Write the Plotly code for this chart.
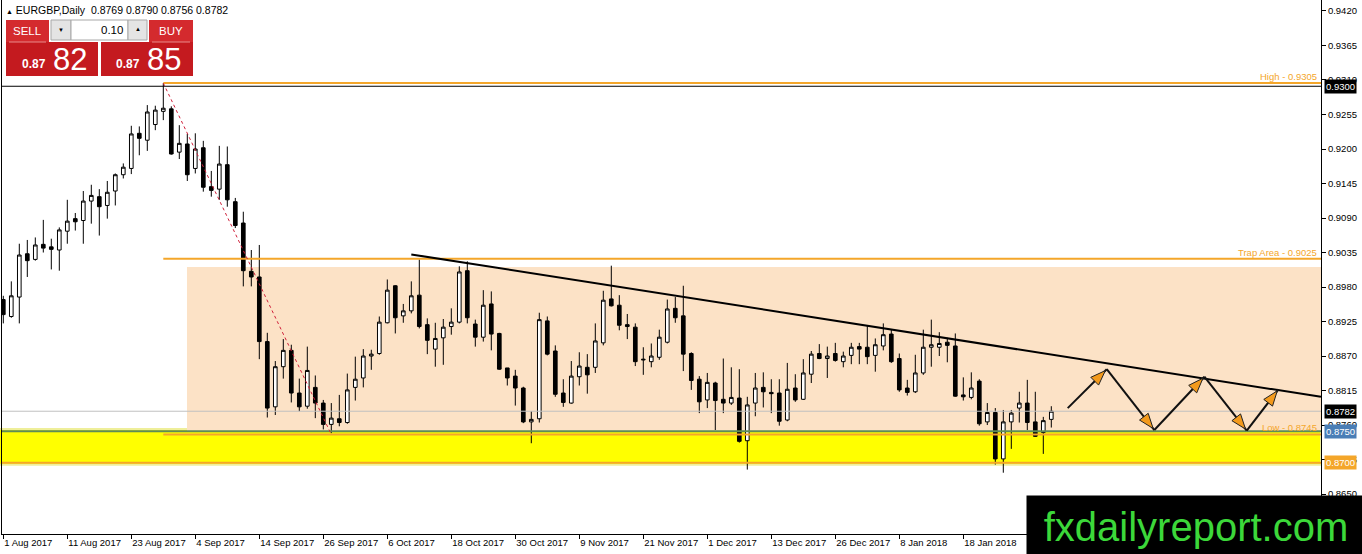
import math
import pandas as pd
import plotly.graph_objects as go

# ---------------- data ----------------
dates = [d for d in pd.bdate_range("2017-08-01", "2018-02-02")
         if d.strftime("%m-%d") not in ("12-25", "01-01")]

opens = [0.8960, 0.8933, 0.8964, 0.9033, 0.9024, 0.9048, 0.9044, 0.9039, 0.9069, 0.9089,
         0.9086, 0.9117, 0.9124, 0.9110, 0.9133, 0.9159, 0.9169, 0.9225, 0.9214, 0.9239,
         0.9260, 0.9264, 0.9195, 0.9208, 0.9169, 0.9202, 0.9140, 0.9136, 0.9175, 0.9116,
         0.9082, 0.9005, 0.8996, 0.8893, 0.8789, 0.8853, 0.8879, 0.8811, 0.8790, 0.8820,
         0.8795, 0.8761, 0.8770, 0.8764, 0.8820, 0.8835, 0.8870, 0.8874, 0.8923, 0.8982,
         0.8934, 0.8942, 0.8967, 0.8920, 0.8881, 0.8899, 0.8917, 0.8924, 0.9006, 0.8921,
         0.8900, 0.8953, 0.8906, 0.8851, 0.8838, 0.8819, 0.8765, 0.8770, 0.8926, 0.8878,
         0.8811, 0.8795, 0.8837, 0.8852, 0.8852, 0.8891, 0.8961, 0.8951, 0.8920, 0.8916,
         0.8865, 0.8861, 0.8868, 0.8892, 0.8946, 0.8934, 0.8874, 0.8833, 0.8800, 0.8827,
         0.8801, 0.8795, 0.8803, 0.8735, 0.8795, 0.8820, 0.8812, 0.8811, 0.8768, 0.8819,
         0.8801, 0.8841, 0.8874, 0.8866, 0.8874, 0.8861, 0.8871, 0.8885, 0.8884, 0.8871,
         0.8886, 0.8905, 0.8866, 0.8819, 0.8813, 0.8843, 0.8884, 0.8884, 0.8892, 0.8886,
         0.8808, 0.8804, 0.8830, 0.8765, 0.8780, 0.8706, 0.8765, 0.8787, 0.8795, 0.8765,
         0.8748, 0.8769]
highs = [0.8966, 0.8989, 0.9049, 0.9055, 0.9059, 0.9087, 0.9057, 0.9075, 0.9119, 0.9098,
         0.9133, 0.9143, 0.9136, 0.9149, 0.9161, 0.9177, 0.9237, 0.9236, 0.9270, 0.9269,
         0.9305, 0.9268, 0.9238, 0.9224, 0.9225, 0.9213, 0.9165, 0.9205, 0.9204, 0.9122,
         0.9100, 0.9039, 0.9047, 0.8907, 0.8862, 0.8897, 0.8888, 0.8834, 0.8885, 0.8839,
         0.8800, 0.8795, 0.8808, 0.8842, 0.8869, 0.8881, 0.8880, 0.8933, 0.8992, 0.8983,
         0.8953, 0.8989, 0.9024, 0.8930, 0.8923, 0.8929, 0.8946, 0.9013, 0.9021, 0.8928,
         0.8975, 0.8973, 0.8907, 0.8851, 0.8848, 0.8821, 0.8782, 0.8939, 0.8933, 0.8887,
         0.8833, 0.8862, 0.8876, 0.8873, 0.8922, 0.8974, 0.9014, 0.8967, 0.8937, 0.8922,
         0.8884, 0.8890, 0.8912, 0.8960, 0.8964, 0.8982, 0.8876, 0.8838, 0.8843, 0.8829,
         0.8866, 0.8852, 0.8849, 0.8805, 0.8843, 0.8844, 0.8833, 0.8833, 0.8859, 0.8841,
         0.8865, 0.8878, 0.8889, 0.8885, 0.8891, 0.8877, 0.8891, 0.8891, 0.8918, 0.8898,
         0.8922, 0.8912, 0.8874, 0.8832, 0.8872, 0.8912, 0.8928, 0.8908, 0.8899, 0.8906,
         0.8836, 0.8844, 0.8833, 0.8795, 0.8787, 0.8784, 0.8784, 0.8813, 0.8832, 0.8813,
         0.8773, 0.8790]
lows = [0.8922, 0.8931, 0.8922, 0.8996, 0.9022, 0.9035, 0.9008, 0.9006, 0.9049, 0.9070,
        0.9049, 0.9081, 0.9062, 0.9089, 0.9110, 0.9153, 0.9160, 0.9190, 0.9197, 0.9230,
        0.9246, 0.9191, 0.9184, 0.9149, 0.9161, 0.9132, 0.9124, 0.9119, 0.9108, 0.9074,
        0.8981, 0.8981, 0.8865, 0.8772, 0.8776, 0.8834, 0.8796, 0.8782, 0.8786, 0.8771,
        0.8753, 0.8747, 0.8758, 0.8762, 0.8799, 0.8820, 0.8848, 0.8872, 0.8922, 0.8906,
        0.8923, 0.8938, 0.8914, 0.8873, 0.8853, 0.8856, 0.8904, 0.8922, 0.8922, 0.8885,
        0.8893, 0.8879, 0.8848, 0.8823, 0.8791, 0.8763, 0.8731, 0.8764, 0.8871, 0.8805,
        0.8789, 0.8794, 0.8823, 0.8810, 0.8843, 0.8887, 0.8949, 0.8911, 0.8897, 0.8854,
        0.8840, 0.8852, 0.8864, 0.8890, 0.8923, 0.8846, 0.8816, 0.8779, 0.8787, 0.8752,
        0.8779, 0.8792, 0.8732, 0.8689, 0.8774, 0.8788, 0.8779, 0.8759, 0.8766, 0.8797,
        0.8800, 0.8827, 0.8865, 0.8835, 0.8861, 0.8852, 0.8857, 0.8857, 0.8857, 0.8845,
        0.8879, 0.8859, 0.8813, 0.8807, 0.8811, 0.8840, 0.8853, 0.8870, 0.8860, 0.8805,
        0.8799, 0.8801, 0.8759, 0.8760, 0.8697, 0.8684, 0.8722, 0.8764, 0.8752, 0.8741,
        0.8714, 0.8756]
closes = [0.8936, 0.8966, 0.9031, 0.9022, 0.9047, 0.9042, 0.9040, 0.9071, 0.9085, 0.9084,
          0.9117, 0.9126, 0.9108, 0.9131, 0.9159, 0.9171, 0.9224, 0.9217, 0.9259, 0.9262,
          0.9265, 0.9192, 0.9209, 0.9159, 0.9200, 0.9139, 0.9134, 0.9176, 0.9119, 0.9078,
          0.9006, 0.8996, 0.8893, 0.8787, 0.8853, 0.8879, 0.8811, 0.8789, 0.8847, 0.8795,
          0.8761, 0.8771, 0.8764, 0.8816, 0.8833, 0.8870, 0.8873, 0.8924, 0.8975, 0.8931,
          0.8942, 0.8966, 0.8917, 0.8895, 0.8898, 0.8916, 0.8924, 0.9004, 0.8931, 0.8900,
          0.8951, 0.8905, 0.8849, 0.8835, 0.8819, 0.8765, 0.8769, 0.8928, 0.8873, 0.8809,
          0.8796, 0.8838, 0.8854, 0.8840, 0.8894, 0.8959, 0.8950, 0.8919, 0.8917, 0.8861,
          0.8864, 0.8870, 0.8900, 0.8945, 0.8931, 0.8873, 0.8831, 0.8797, 0.8828, 0.8799,
          0.8795, 0.8804, 0.8734, 0.8792, 0.8819, 0.8813, 0.8810, 0.8766, 0.8817, 0.8800,
          0.8843, 0.8873, 0.8866, 0.8870, 0.8863, 0.8870, 0.8884, 0.8881, 0.8869, 0.8888,
          0.8904, 0.8861, 0.8816, 0.8812, 0.8843, 0.8884, 0.8888, 0.8890, 0.8887, 0.8806,
          0.8805, 0.8819, 0.8762, 0.8780, 0.8706, 0.8765, 0.8779, 0.8795, 0.8764, 0.8742,
          0.8767, 0.8782]

tick_index = [0, 8, 16, 24, 32, 40, 48, 56, 64, 72, 80, 88, 96, 104, 112, 120]
tick_labels = ["1 Aug 2017", "11 Aug 2017", "23 Aug 2017", "4 Sep 2017", "14 Sep 2017",
               "26 Sep 2017", "6 Oct 2017", "18 Oct 2017", "30 Oct 2017", "9 Nov 2017",
               "21 Nov 2017", "1 Dec 2017", "13 Dec 2017", "26 Dec 2017", "8 Jan 2018",
               "18 Jan 2018"]
price_ticks = [0.8650, 0.8705, 0.8760, 0.8815, 0.8870, 0.8925, 0.8980, 0.9035,
               0.9090, 0.9145, 0.9200, 0.9255, 0.9310, 0.9365, 0.9420]

high_level = 0.9305
trap_level = 0.9025
low_level = 0.8745
support_level = 0.8750
floor_level = 0.8700
round_level = 0.9300
ask_price = 0.8785
zone_top, zone_bottom = 0.9012, 0.8750
band_top, band_bottom = 0.87535, 0.86965
level_start = 20          # bar index where the High/Trap/Low lines start
zone_start = 22.96
trend_pts = [(51.0, 0.9032), (164.7, 0.8805)]
fall_pts = [(20, 0.9305), (41, 0.8745)]
path_pts = [(133.05, 0.8787), (137.93, 0.8849), (143.88, 0.8752),
            (150.13, 0.8837), (155.43, 0.8751), (159.4, 0.8817)]

# ---------------- geometry ----------------
W, H = 1362, 554
ML, MR, MT, MB = 2, 41, 0, 20
PW, PH = W - ML - MR, H - MT - MB
X0, X1 = -0.1625, 164.7125
Y0, Y1 = 0.85863, 0.94375
FONT = "Liberation Sans"
ORANGE = "#F4A62A"

def xp(px):
    return (px - ML) / PW

def yp(py):
    return 1 - (py - MT) / PH

def to_px(i, p):
    return ML + (i - X0) / (X1 - X0) * PW, MT + (Y1 - p) / (Y1 - Y0) * PH

def to_data(px, py):
    return X0 + (px - ML) / PW * (X1 - X0), Y1 - (py - MT) / PH * (Y1 - Y0)

x_idx = list(range(len(dates)))

fig = go.Figure()
fig.add_trace(go.Candlestick(
    x=x_idx, open=opens, high=highs, low=lows, close=closes,
    customdata=[d.strftime("%Y-%m-%d") for d in dates],
    increasing=dict(fillcolor="white", line=dict(color="black", width=1)),
    decreasing=dict(fillcolor="black", line=dict(color="black", width=1)),
    whiskerwidth=0, showlegend=False, hoverinfo="x+y"))

shapes = []
# zones (below candles)
shapes.append(dict(type="rect", xref="x", yref="y", x0=zone_start, x1=X1 + 5,
                   y0=zone_bottom, y1=zone_top, fillcolor="#FCE2C6", line=dict(width=0),
                   layer="below"))
shapes.append(dict(type="rect", xref="paper", yref="y", x0=-0.01, x1=1.0,
                   y0=band_bottom, y1=band_top, fillcolor="#FFFF00",
                   line=dict(color="#EFEF9A", width=2), layer="below"))
# horizontal levels
def hline(y, color, width, x0=X0 - 1, x1=X1 + 5, dash="solid"):
    shapes.append(dict(type="line", xref="x", yref="y", x0=x0, x1=x1, y0=y, y1=y,
                       line=dict(color=color, width=width, dash=dash), layer="above"))

hline(closes[-1], "#C0C0C0", 1)
hline(round_level, "black", 1)
hline(high_level, ORANGE, 2, x0=level_start)
hline(trap_level, ORANGE, 2, x0=level_start)
hline(support_level, "#5E8C58", 2)
hline(low_level, ORANGE, 2, x0=level_start)
hline(floor_level, ORANGE, 2)
# trend line
shapes.append(dict(type="line", xref="x", yref="y", x0=trend_pts[0][0], y0=trend_pts[0][1],
                   x1=trend_pts[1][0], y1=trend_pts[1][1],
                   line=dict(color="black", width=2), layer="above"))
# red dotted fall line
shapes.append(dict(type="line", xref="x", yref="y", x0=fall_pts[0][0], y0=fall_pts[0][1],
                   x1=fall_pts[1][0], y1=fall_pts[1][1],
                   line=dict(color="#D0203A", width=1, dash="dot"), layer="above"))
# zig-zag projection arrows
for a, b in zip(path_pts[:-1], path_pts[1:]):
    shapes.append(dict(type="line", xref="x", yref="y", x0=a[0], y0=a[1], x1=b[0], y1=b[1],
                       line=dict(color="#111111", width=2), layer="above"))
for a, b in zip(path_pts[:-1], path_pts[1:]):
    ax, ay = to_px(*a)
    bx, by = to_px(*b)
    L = math.hypot(bx - ax, by - ay)
    ux, uy = (bx - ax) / L, (by - ay) / L
    tx, ty = bx - ux * 2, by - uy * 2
    cx, cy = tx - ux * 15, ty - uy * 15
    nx, ny = -uy, ux
    pts = [(tx, ty), (cx + nx * 5.5, cy + ny * 5.5), (cx - nx * 5.5, cy - ny * 5.5)]
    dpts = [to_data(*p) for p in pts]
    path = "M {},{} L {},{} L {},{} Z".format(*[v for p in dpts for v in p])
    shapes.append(dict(type="path", xref="x", yref="y", path=path, fillcolor="#F39A1C",
                       line=dict(color="#222222", width=1), layer="above"))

# trade panel
def prect(x0, y0, x1, y1, fill, line=None, lw=0):
    shapes.append(dict(type="rect", xref="paper", yref="paper", x0=xp(x0), x1=xp(x1),
                       y0=yp(y1), y1=yp(y0), fillcolor=fill,
                       line=dict(color=line or fill, width=lw), layer="above"))

prect(6, 20, 49, 42, "#D42A2E")
prect(6, 42, 98, 76, "#C41A1F")
prect(149, 20, 193, 42, "#D42A2E")
prect(101, 42, 193, 76, "#C41A1F")
prect(51, 20, 71, 40, "#E4E4E4", "#A8A8A8", 1)
prect(71, 20, 128, 40, "#FFFFFF", "#A8A8A8", 1)
prect(128, 20, 147, 40, "#E4E4E4", "#A8A8A8", 1)
for x0, x1 in [(9, 46), (152, 190)]:
    shapes.append(dict(type="line", xref="paper", yref="paper", x0=xp(x0), x1=xp(x1),
                       y0=yp(42), y1=yp(42), line=dict(color="#E88A8A", width=1),
                       layer="above"))

ann = []
def text(px, py, s, size, color="black", anchor="center", fam=FONT, **kw):
    ann.append(dict(xref="paper", yref="paper", x=xp(px), y=yp(py), text=s,
                    showarrow=False, xanchor=anchor, yanchor="middle",
                    font=dict(family=fam, size=size, color=color), **kw))

header = "<span style='font-size:7px'>▲</span> EURGBP,Daily  {:.4f} {:.4f} {:.4f} {:.4f}".format(
    opens[-1], highs[-1], lows[-1], closes[-1])
text(4, 10, header, 10.5, anchor="left")
text(27.5, 31, "SELL", 11.5, "white")
text(171, 31, "BUY", 11.5, "white")
text(61, 30, "▼", 6)
text(138, 29, "▲", 6)
text(125, 30, "0.10", 11.5, anchor="right")
bid_s, ask_s = "{:.4f}".format(closes[-1]), "{:.4f}".format(ask_price)
text(48, 64, "<b>" + bid_s[:4] + "</b>", 12, "white", anchor="right")
text(51, 59, bid_s[4:], 31, "white", anchor="left")
text(142, 64, "<b>" + ask_s[:4] + "</b>", 12, "white", anchor="right")
text(145, 59, ask_s[4:], 31, "white", anchor="left")

# level captions
for lvl, name in [(high_level, "High"), (trap_level, "Trap Area"), (low_level, "Low")]:
    ann.append(dict(xref="paper", yref="y", x=1, xshift=-2, y=lvl, yshift=-1,
                    text="{} - {:.4f}".format(name, lvl), showarrow=False,
                    xanchor="right", yanchor="bottom",
                    font=dict(family=FONT, size=9.5, color=ORANGE)))
# axis price boxes
for val, bg in [(round_level, "black"), (closes[-1], "black"),
                (support_level, "#4A7EB6"), (floor_level, ORANGE)]:
    ann.append(dict(xref="paper", yref="y", x=1, xshift=3, y=val, text="{:.4f}".format(val),
                    showarrow=False, xanchor="left", yanchor="middle", bgcolor=bg,
                    borderpad=1, font=dict(family=FONT, size=9.5, color="white")))
# watermark
ann.append(dict(xref="paper", yref="paper", x=xp(1026), y=yp(495), xanchor="left",
                yanchor="top", width=336, height=59, bgcolor="black", showarrow=False,
                text="fxdailyreport.com", align="center", valign="middle",
                font=dict(family=FONT, size=40, color="#3CD83A")))

fig.update_layout(
    width=W, height=H, margin=dict(l=ML, r=MR, t=MT, b=MB),
    paper_bgcolor="white", plot_bgcolor="white",
    shapes=shapes, annotations=ann, showlegend=False,
    font=dict(family=FONT, size=9.5, color="black"),
    boxgap=0.35,
    xaxis=dict(range=[X0, X1], tickmode="array", tickvals=tick_index, ticktext=tick_labels,
               ticks="outside", ticklen=4, tickcolor="black", showgrid=False, zeroline=False,
               showline=True, linecolor="black", linewidth=1, rangeslider=dict(visible=False),
               ticklabelposition="outside right", tickfont=dict(size=9.5)),
    yaxis=dict(range=[Y0, Y1], side="right", tickmode="array", tickvals=price_ticks,
               ticktext=["{:.4f}".format(v) for v in price_ticks], ticks="outside",
               ticklen=4, tickcolor="black", showgrid=False, zeroline=False, showline=True,
               linecolor="black", linewidth=1, mirror=True, tickfont=dict(size=9.5)),
)

fig.write_html("out.html", config={"displayModeBar": False},
               post_script="document.body.style.margin='0';document.body.style.overflow='hidden';")
